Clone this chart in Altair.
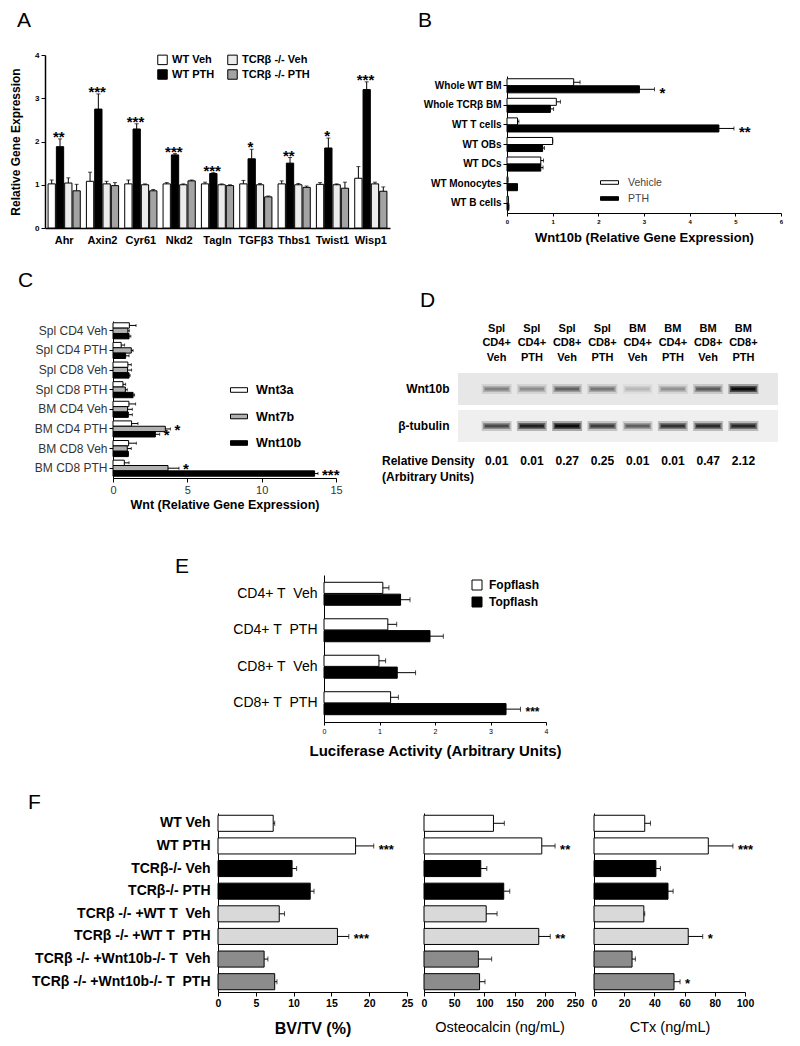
import altair as alt
import pandas as pd

FONT = "Liberation Sans"
W, H = 784, 1030

# ---------------- Panel A ----------------
A_genes = ["Ahr", "Axin2", "Cyr61", "Nkd2", "Tagln", "TGFβ3", "Thbs1", "Twist1", "Wisp1"]
A_series = ["WT Veh", "WT PTH", "TCRβ -/- Veh", "TCRβ -/- PTH"]
A_wt_veh = [1.02, 1.08, 1.02, 1.02, 1.02, 1.02, 1.02, 1.01, 1.15]
A_wt_veh_err = [0.09, 0.21, 0.09, 0.03, 0.04, 0.08, 0.07, 0.04, 0.27]
A_wt_pth = [1.88, 2.75, 2.29, 1.69, 1.26, 1.60, 1.50, 1.85, 3.20]
A_wt_pth_err = [0.18, 0.35, 0.12, 0.03, 0.02, 0.22, 0.13, 0.23, 0.18]
A_tcr_veh = [1.04, 1.02, 1.00, 1.00, 1.00, 1.00, 1.00, 1.00, 1.02]
A_tcr_veh_err = [0.12, 0.06, 0.02, 0.02, 0.02, 0.03, 0.03, 0.02, 0.04]
A_tcr_pth = [0.86, 0.98, 0.86, 1.09, 0.98, 0.72, 0.94, 0.92, 0.85]
A_tcr_pth_err = [0.15, 0.07, 0.03, 0.02, 0.02, 0.02, 0.03, 0.14, 0.10]
A_sig = ["**", "***", "***", "***", "***", "*", "**", "*", "***"]

# ---------------- Panel B ----------------
B_cats = ["Whole WT BM", "Whole TCRβ BM", "WT T cells", "WT OBs", "WT DCs", "WT Monocytes", "WT B cells"]
B_series = ["Vehicle", "PTH"]
B_veh = [1.46, 1.08, 0.23, 1.00, 0.74, 0.02, 0.03]
B_veh_err = [0.14, 0.09, 0.03, 0.00, 0.06, 0.00, 0.00]
B_pth = [2.90, 0.95, 4.64, 0.78, 0.74, 0.23, 0.04]
B_pth_err = [0.33, 0.07, 0.33, 0.04, 0.05, 0.00, 0.00]
B_pth_sig = ["*", "", "**", "", "", "", ""]

# ---------------- Panel C ----------------
C_cats = ["Spl CD4 Veh", "Spl CD4 PTH", "Spl CD8 Veh", "Spl CD8 PTH",
          "BM CD4 Veh", "BM CD4 PTH", "BM CD8 Veh", "BM CD8 PTH"]
C_series = ["Wnt3a", "Wnt7b", "Wnt10b"]
C_wnt3a = [1.10, 0.55, 1.00, 0.67, 1.07, 1.25, 1.05, 0.76]
C_wnt3a_err = [0.45, 0.23, 0.23, 0.18, 0.45, 0.43, 0.52, 0.32]
C_wnt7b = [1.00, 1.23, 0.98, 0.83, 0.98, 3.52, 0.96, 3.70]
C_wnt7b_err = [0.10, 0.12, 0.27, 0.13, 0.32, 0.34, 0.27, 0.74]
C_wnt10b = [1.08, 0.85, 1.08, 1.35, 1.03, 2.85, 1.03, 13.56]
C_wnt10b_err = [0.12, 0.23, 0.07, 0.10, 0.27, 0.29, 0.00, 0.23]
C_sig7b = ["", "", "", "", "", "*", "", "*"]
C_sig10b = ["", "", "", "", "", "*", "", "***"]

# ---------------- Panel D ----------------
D_lanes = ["Spl|CD4+|Veh", "Spl|CD4+|PTH", "Spl|CD8+|Veh", "Spl|CD8+|PTH",
           "BM|CD4+|Veh", "BM|CD4+|PTH", "BM|CD8+|Veh", "BM|CD8+|PTH"]
D_rows = ["Wnt10b", "β-tubulin", "Relative Density"]
D_wnt10b_band = [0.30, 0.26, 0.42, 0.34, 0.12, 0.24, 0.45, 0.98]
D_tubulin_band = [0.55, 0.80, 0.98, 0.62, 0.45, 0.68, 0.72, 0.74]
D_density = [0.01, 0.01, 0.27, 0.25, 0.01, 0.01, 0.47, 2.12]

# ---------------- Panel E ----------------
E_cats = ["CD4+ T\u00a0 Veh", "CD4+ T\u00a0 PTH", "CD8+ T\u00a0 Veh", "CD8+ T\u00a0 PTH"]
E_series = ["Fopflash", "Topflash"]
E_fop = [1.06, 1.15, 0.99, 1.20]
E_fop_err = [0.11, 0.16, 0.12, 0.14]
E_top = [1.38, 1.91, 1.32, 3.28]
E_top_err = [0.17, 0.24, 0.33, 0.26]
E_top_sig = ["", "", "", "***"]

# ---------------- Panel F ----------------
F_cats = ["WT Veh", "WT PTH", "TCRβ-/- Veh", "TCRβ-/- PTH",
          "TCRβ -/- +WT T\u00a0 Veh", "TCRβ -/- +WT T\u00a0 PTH",
          "TCRβ -/- +Wnt10b-/- T\u00a0 Veh", "TCRβ -/- +Wnt10b-/- T\u00a0 PTH"]
F_groups = ["WT", "WT", "TCR", "TCR", "WT T", "WT T", "Wnt10b T", "Wnt10b T"]
F_bvtv = [7.3, 18.2, 9.8, 12.2, 8.1, 15.8, 6.1, 7.5]
F_bvtv_err = [0.2, 2.4, 0.6, 0.5, 0.7, 1.5, 0.5, 0.3]
F_bvtv_sig = ["", "***", "", "", "", "***", "", ""]
F_osteo = [115, 195, 94, 132, 103, 190, 90, 92]
F_osteo_err = [18, 22, 10, 10, 18, 19, 22, 9]
F_osteo_sig = ["", "**", "", "", "", "**", "", ""]
F_ctx = [33.6, 75.7, 41.0, 49.0, 33.0, 62.4, 25.2, 53.0]
F_ctx_err = [3.8, 16.3, 3.0, 3.4, 0.6, 9.6, 2.2, 4.0]
F_ctx_sig = ["", "***", "", "", "", "*", "", "*"]


def bottom(y):
    return y - H


layers = []


def hpanel(df, cats, y_scale, x_scale, series=None, yo_scale=None, color_field="series",
           c_scale=None, x_axis=None, y_axis=None, legend=None, cap=4, star_size=14,
           star_dx=4, star_dy=3, stroke_w=1):
    base = alt.Chart(df)

    def enc(xfield, with_axes=False, **extra):
        e = dict(
            x=alt.X(f"{xfield}:Q", scale=x_scale, axis=x_axis if with_axes else None, stack=None),
            y=alt.Y("cat:N", scale=y_scale, sort=cats, axis=y_axis if with_axes else None),
        )
        if yo_scale is not None:
            e["yOffset"] = alt.YOffset("series:N", scale=yo_scale, sort=series)
        e.update(extra)
        return e

    bars = base.mark_bar(stroke="black", strokeWidth=stroke_w).encode(
        **enc("value", True, color=alt.Color(f"{color_field}:N", scale=c_scale, legend=legend)))
    err = base.mark_rule(color="black", strokeWidth=1).encode(**enc("value", x2="upper:Q"))
    caps = base.mark_tick(color="black", thickness=1, size=cap).encode(**enc("upper"))
    stars = base.transform_filter("datum.sig != ''").mark_text(
        font=FONT, fontSize=star_size, fontWeight="bold", align="left", baseline="middle",
        dx=star_dx, dy=star_dy).encode(**enc("upper", text="sig:N"))
    return [bars, err, caps, stars]


# ================= Panel A (vertical grouped bars) =================
rows = []
for i, g in enumerate(A_genes):
    for s, v, e in [("WT Veh", A_wt_veh, A_wt_veh_err), ("WT PTH", A_wt_pth, A_wt_pth_err),
                    ("TCRβ -/- Veh", A_tcr_veh, A_tcr_veh_err), ("TCRβ -/- PTH", A_tcr_pth, A_tcr_pth_err)]:
        rows.append({"gene": g, "series": s, "value": v[i], "upper": v[i] + e[i],
                     "sig": A_sig[i] if s == "WT PTH" else ""})
dfA = pd.DataFrame(rows)

xA = alt.Scale(domain=A_genes, range=[37, 382], paddingInner=0.16, paddingOuter=0.08)
xoA = alt.Scale(domain=A_series, paddingInner=0.12, paddingOuter=0)
yA = alt.Scale(domain=[0, 4], range=[220, 47], nice=False)
cA = alt.Scale(domain=A_series, range=["#ffffff", "#000000", "#ececec", "#a3a3a3"])


def encA(yfield, with_axes=False, **extra):
    e = dict(
        x=alt.X("gene:N", scale=xA, sort=A_genes,
                axis=alt.Axis(orient="bottom", offset=bottom(220), title=None, ticks=False,
                              labelAngle=0, labelFontSize=11, labelFontWeight="bold",
                              labelPadding=6, domainWidth=1.5) if with_axes else None),
        xOffset=alt.XOffset("series:N", scale=xoA, sort=A_series),
        y=alt.Y(f"{yfield}:Q", scale=yA, stack=None,
                axis=alt.Axis(orient="left", offset=-37, values=[0, 1, 2, 3, 4],
                              title="Relative Gene Expression", titleFontSize=12,
                              titleFontWeight="bold", titlePadding=12, labelFontSize=8,
                              labelFontWeight="bold", tickSize=4, domainWidth=1.5) if with_axes else None),
    )
    e.update(extra)
    return e


baseA = alt.Chart(dfA)
layers.append(baseA.mark_bar(stroke="black", strokeWidth=1).encode(
    **encA("value", True, color=alt.Color(
        "series:N", scale=cA,
        legend=alt.Legend(orient="none", legendX=149, legendY=46, columns=2, title=None,
                          direction="vertical", gridAlign="each",
                          symbolType="square", symbolSize=90, symbolStrokeColor="black",
                          symbolStrokeWidth=1, labelFontSize=11, labelFontWeight="bold",
                          labelFont=FONT, columnPadding=10, rowPadding=0, labelOffset=4)))))
layers.append(baseA.mark_rule(color="black", strokeWidth=1).encode(**encA("value", y2="upper:Q")))
layers.append(baseA.mark_tick(color="black", thickness=1, size=4).encode(**encA("upper")))
layers.append(baseA.transform_filter("datum.sig != ''").mark_text(
    font=FONT, fontSize=15, fontWeight="bold", baseline="alphabetic", dy=3).encode(
    **encA("upper", text="sig:N")))

# ================= Panel B =================
rows = []
for i, c in enumerate(B_cats):
    rows.append({"cat": c, "series": "Vehicle", "value": B_veh[i], "upper": B_veh[i] + B_veh_err[i], "sig": ""})
    rows.append({"cat": c, "series": "PTH", "value": B_pth[i], "upper": B_pth[i] + B_pth_err[i], "sig": B_pth_sig[i]})
dfB = pd.DataFrame(rows)
layers += hpanel(
    dfB, B_cats,
    y_scale=alt.Scale(domain=B_cats, range=[68, 205], paddingInner=0.28, paddingOuter=0.14),
    x_scale=alt.Scale(domain=[0, 6], range=[499, 773], nice=False),
    series=B_series, yo_scale=alt.Scale(domain=B_series, paddingInner=0.0),
    c_scale=alt.Scale(domain=B_series, range=["#ffffff", "#000000"]),
    x_axis=alt.Axis(orient="bottom", offset=bottom(205), values=[0, 1, 2, 3, 4, 5, 6],
                    labelFontSize=6, labelFontWeight="bold", labelFlush=False, tickSize=3,
                    title="Wnt10b (Relative Gene Expression)", titleFontSize=13,
                    titleFontWeight="bold", titlePadding=7),
    y_axis=alt.Axis(orient="left", offset=-499, title=None, labelFontSize=10,
                    labelFontWeight="bold", tickSize=4, labelPadding=2),
    legend=alt.Legend(orient="none", legendX=592, legendY=165, title=None,
                      symbolType="M-1,-0.2H1V0.2H-1Z", symbolSize=324,
                      symbolStrokeColor="black", symbolStrokeWidth=1, labelFontSize=10.5,
                      labelColor="#444444", labelFont=FONT, labelOffset=9, rowPadding=1),
    cap=4, star_size=15, star_dx=5, star_dy=4)

# ================= Panel C =================
rows = []
for i, c in enumerate(C_cats):
    rows.append({"cat": c, "series": "Wnt3a", "value": C_wnt3a[i], "upper": C_wnt3a[i] + C_wnt3a_err[i], "sig": ""})
    rows.append({"cat": c, "series": "Wnt7b", "value": C_wnt7b[i], "upper": C_wnt7b[i] + C_wnt7b_err[i], "sig": C_sig7b[i]})
    rows.append({"cat": c, "series": "Wnt10b", "value": C_wnt10b[i], "upper": C_wnt10b[i] + C_wnt10b_err[i], "sig": C_sig10b[i]})
dfC = pd.DataFrame(rows)
layers += hpanel(
    dfC, C_cats,
    y_scale=alt.Scale(domain=C_cats, range=[313, 470], paddingInner=0.18, paddingOuter=0.09),
    x_scale=alt.Scale(domain=[0, 15], range=[105, 328], nice=False),
    series=C_series, yo_scale=alt.Scale(domain=C_series, paddingInner=0.0),
    c_scale=alt.Scale(domain=C_series, range=["#ffffff", "#b0b0b0", "#000000"]),
    x_axis=alt.Axis(orient="bottom", offset=bottom(470), values=[0, 5, 10, 15],
                    labelFontSize=11, labelColor="#333333", labelFlush=False, tickSize=4,
                    title="Wnt (Relative Gene Expression)", titleFontSize=12.5,
                    titleFontWeight="bold", titlePadding=3),
    y_axis=alt.Axis(orient="left", offset=-105, title=None, labelFontSize=12,
                    labelColor="#333333", tickSize=4, labelPadding=2),
    legend=alt.Legend(orient="none", legendX=222, legendY=373, title=None,
                      symbolType="M-1,-0.27H1V0.27H-1Z", symbolSize=289,
                      symbolStrokeColor="black", symbolStrokeWidth=1, labelFontSize=12.5,
                      labelFontWeight="bold", labelFont=FONT, labelOffset=8, rowPadding=10.5),
    cap=3, star_size=15, star_dx=4, star_dy=1)

# ================= Panel D (western blot) =================
xD = alt.Scale(domain=D_lanes, range=[471, 753], paddingInner=0, paddingOuter=0)
xDbg = alt.Scale(domain=D_lanes, range=[450, 770], paddingInner=0, paddingOuter=0)
yD = alt.Scale(domain=D_rows, range=[365, 471], paddingInner=0.135, paddingOuter=0)

dfDbg = pd.DataFrame([{"lane": l, "row": r} for r in D_rows[:2] for l in D_lanes])
layers.append(alt.Chart(dfDbg).mark_rect(strokeWidth=0).encode(
    x=alt.X("lane:N", scale=xDbg, sort=D_lanes, axis=None),
    y=alt.Y("row:N", scale=yD, sort=D_rows,
            axis=alt.Axis(orient="left", offset=-450, title=None, domain=False, ticks=False,
                          labelPadding=9, labelFontSize=12, labelFontWeight="bold",
                          values=D_rows[:2])),
    color=alt.Color("row:N", scale=alt.Scale(domain=D_rows[:2], range=["#e7e7e7", "#efefef"]),
                    legend=None)))

dfDband = pd.DataFrame(
    [{"lane": l, "row": "Wnt10b", "intensity": D_wnt10b_band[i]} for i, l in enumerate(D_lanes)]
    + [{"lane": l, "row": "β-tubulin", "intensity": D_tubulin_band[i]} for i, l in enumerate(D_lanes)])
for thick, size, top_op, with_axis in [(10, 30, 0.30, True), (6, 27, 0.55, False), (3, 24, 0.85, False)]:
    layers.append(alt.Chart(dfDband).mark_tick(orient="horizontal", thickness=thick, size=size,
                                               color="black").encode(
        x=alt.X("lane:N", scale=xD, sort=D_lanes,
                axis=alt.Axis(orient="top", offset=-325, title=None, domain=False, ticks=False,
                              labelExpr="split(datum.label, '|')", labelFontSize=11,
                              labelFontWeight="bold", labelLineHeight=14.5, labelPadding=0,
                              labelAngle=0) if with_axis else None),
        y=alt.Y("row:N", scale=yD, sort=D_rows, axis=None),
        opacity=alt.Opacity("intensity:Q", scale=alt.Scale(domain=[0, 1], range=[0, top_op]),
                            legend=None)))

dfDdens = pd.DataFrame({"lane": D_lanes, "row": ["Relative Density"] * 8, "density": D_density})
layers.append(alt.Chart(dfDdens).mark_text(font=FONT, fontSize=12, fontWeight="bold").encode(
    x=alt.X("lane:N", scale=xD, sort=D_lanes, axis=None),
    y=alt.Y("row:N", scale=yD, sort=D_rows, axis=None),
    text=alt.Text("density:Q", format=".2f")))
layers.append(alt.Chart(pd.DataFrame({"row": ["Relative Density"],
                                      "t": ["Relative Density|(Arbitrary Units)"]})).mark_text(
    font=FONT, fontSize=12, fontWeight="bold", align="left", lineBreak="|", baseline="middle",
    lineHeight=16).encode(
    x=alt.value(374),
    y=alt.Y("row:N", scale=yD, sort=D_rows, axis=None),
    text="t:N"))

# ================= Panel E =================
rows = []
for i, c in enumerate(E_cats):
    rows.append({"cat": c, "series": "Fopflash", "value": E_fop[i], "upper": E_fop[i] + E_fop_err[i], "sig": ""})
    rows.append({"cat": c, "series": "Topflash", "value": E_top[i], "upper": E_top[i] + E_top_err[i], "sig": E_top_sig[i]})
dfE = pd.DataFrame(rows)
layers += hpanel(
    dfE, E_cats,
    y_scale=alt.Scale(domain=E_cats, range=[567, 714], paddingInner=0.37, paddingOuter=0.2),
    x_scale=alt.Scale(domain=[0, 4], range=[316, 538], nice=False),
    series=E_series, yo_scale=alt.Scale(domain=E_series, paddingInner=0.06),
    c_scale=alt.Scale(domain=E_series, range=["#ffffff", "#000000"]),
    x_axis=alt.Axis(orient="bottom", offset=bottom(714), values=[0, 1, 2, 3, 4],
                    labelFontSize=7, labelFlush=False, tickSize=3,
                    title="Luciferase Activity (Arbitrary Units)", titleFontSize=15,
                    titleFontWeight="bold", titlePadding=9),
    y_axis=alt.Axis(orient="left", offset=-316, title=None, labelFontSize=14,
                    ticks=False, labelPadding=7),
    legend=alt.Legend(orient="none", legendX=463, legendY=571, title=None,
                      symbolType="square", symbolSize=100, symbolStrokeColor="black",
                      symbolStrokeWidth=1, labelFontSize=12, labelFontWeight="bold",
                      labelFont=FONT, labelOffset=6, rowPadding=3),
    cap=5, star_size=12, star_dx=5, star_dy=3)

# ================= Panel F =================
yF = alt.Scale(domain=F_cats, range=[805, 984], paddingInner=0.29, paddingOuter=0.1)
cF = alt.Scale(domain=["WT", "TCR", "WT T", "Wnt10b T"],
               range=["#ffffff", "#000000", "#d9d9d9", "#8c8c8c"])
specsF = [
    (F_bvtv, F_bvtv_err, F_bvtv_sig, [0, 25], [210, 399], [0, 5, 10, 15, 20, 25],
     "BV/TV (%)", "bold", 16, True),
    (F_osteo, F_osteo_err, F_osteo_sig, [0, 250], [416, 567], [0, 50, 100, 150, 200, 250],
     "Osteocalcin (ng/mL)", "normal", 14.5, False),
    (F_ctx, F_ctx_err, F_ctx_sig, [0, 100], [586, 737], [0, 20, 40, 60, 80, 100],
     "CTx (ng/mL)", "normal", 14.5, False),
]
for vals, errs, sigs, dom, rng, ticks, title, tw, tfs, show_labels in specsF:
    dfF = pd.DataFrame({"cat": F_cats, "group": F_groups, "value": vals,
                        "upper": [v + e for v, e in zip(vals, errs)], "sig": sigs})
    layers += hpanel(
        dfF, F_cats, y_scale=yF,
        x_scale=alt.Scale(domain=dom, range=rng, nice=False),
        color_field="group", c_scale=cF,
        x_axis=alt.Axis(orient="bottom", offset=bottom(984), values=ticks, labelFontSize=10.5,
                        labelFontWeight="bold", labelFlush=False, tickSize=4, labelPadding=2,
                        title=title, titleFontSize=tfs, titleFontWeight=tw, titlePadding=12),
        y_axis=alt.Axis(orient="left", offset=-rng[0], title=None, ticks=False,
                        labels=show_labels, labelFontSize=14, labelFontWeight="bold",
                        labelPadding=8, labelLimit=400),
        legend=None, cap=5, star_size=13, star_dx=5, star_dy=3)

# ================= Panel letters =================
for letter, lx, ly in [("A", 9, 2), ("B", 410, 2), ("C", 10, 262), ("D", 412, 282),
                       ("E", 167, 548), ("F", 20, 784)]:
    layers.append(alt.Chart(pd.DataFrame({"t": [letter]})).mark_text(
        font=FONT, fontSize=21, align="left", baseline="top").encode(
        x=alt.value(lx), y=alt.value(ly), text="t:N"))

chart = alt.layer(*layers).properties(
    width=W, height=H, padding=0, autosize=alt.AutoSizeParams(type="none")
).resolve_scale(
    x="independent", y="independent", color="independent", opacity="independent",
    xOffset="independent", yOffset="independent"
).configure(font=FONT).configure_view(stroke=None).configure_axis(
    labelFont=FONT, titleFont=FONT, domainColor="black", tickColor="black",
    labelColor="black", titleColor="black", grid=False
).configure_legend(labelFont=FONT, titleFont=FONT)

chart.save("out.html", embed_options={"renderer": "svg", "actions": False})
